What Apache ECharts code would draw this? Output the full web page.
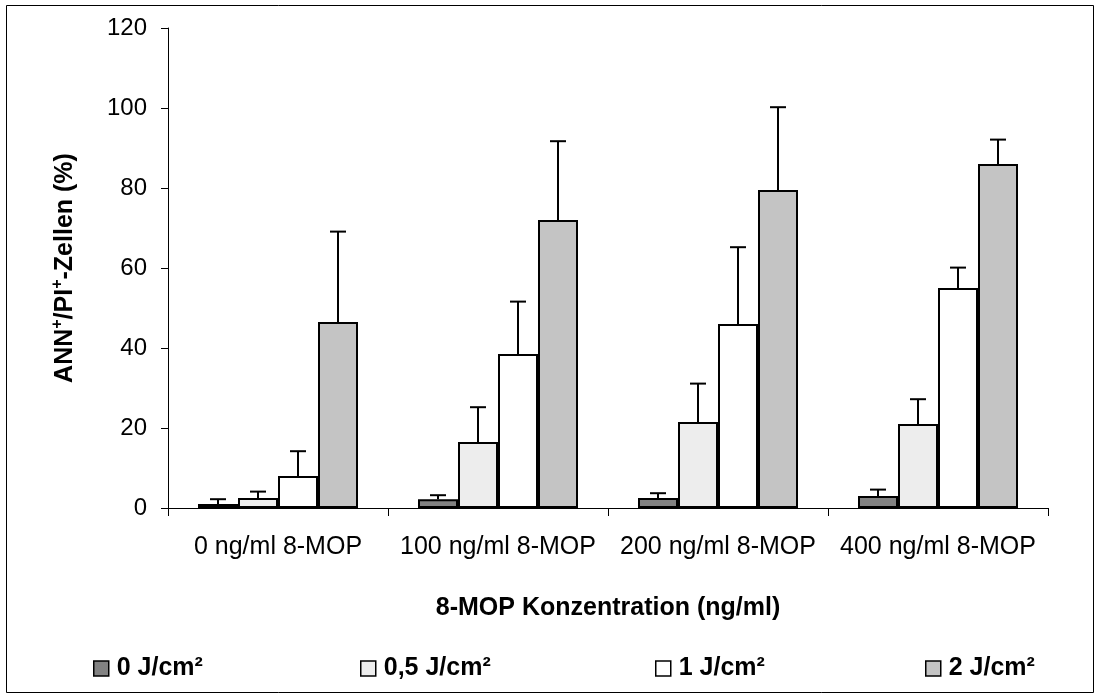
<!DOCTYPE html>
<html>
<head>
<meta charset="utf-8">
<script src="https://cdn.jsdelivr.net/npm/echarts@6/dist/echarts.min.js"></script>
<style>
html,body{margin:0;padding:0;background:#fff;}
#chart{width:1104px;height:699px;}
</style>
</head>
<body>
<div id="chart"></div>
<script>
const categories = ['0 ng/ml 8-MOP', '100 ng/ml 8-MOP', '200 ng/ml 8-MOP', '400 ng/ml 8-MOP'];
const seriesNames = ['0 J/cm²', '0,5 J/cm²', '1 J/cm²', '2 J/cm²'];
const values0 = [1, 2.2, 2.5, 3];
const values05 = [2.5, 16.5, 21.5, 21];
const values1 = [8, 38.5, 46, 55];
const values2 = [46.5, 72, 79.5, 86];
const errors0 = [1.2, 1, 1.2, 1.6];
const errors05 = [1.6, 8.7, 9.6, 6.2];
const errors1 = [6.2, 13.1, 19.2, 5.1];
const errors2 = [22.6, 19.7, 20.7, 6.1];
const yTicks = [0, 20, 40, 60, 80, 100, 120];

const allValues = [values0, values05, values1, values2];
const allErrors = [errors0, errors05, errors1, errors2];
const colors = ['#828282', '#ededed', '#ffffff', '#c4c4c4'];
const FONT = 'Liberation Sans, Arial, sans-serif';
const BAR_W = 40;

const chart = echarts.init(document.getElementById('chart'));

const barSeries = seriesNames.map((n, i) => ({
  name: n,
  type: 'bar',
  data: allValues[i],
  barWidth: BAR_W,
  barGap: '0%',
  itemStyle: { color: colors[i], borderColor: '#000', borderWidth: 2 },
  emphasis: { disabled: true },
  z: 2
}));

const errSeries = seriesNames.map((n, i) => ({
  type: 'custom',
  name: n + ' err',
  data: allValues[i].map((v, k) => [k, v, v + allErrors[i][k]]),
  encode: { x: 0, y: [1, 2] },
  z: 3,
  silent: true,
  renderItem: function (params, api) {
    const c = api.value(0);
    const p0 = api.coord([c, api.value(1)]);
    const p1 = api.coord([c, api.value(2)]);
    const x = p0[0] + (i - 1.5) * BAR_W;
    const cap = 8;
    return {
      type: 'group',
      children: [
        { type: 'line', shape: { x1: x, y1: p0[1], x2: x, y2: p1[1] }, style: { stroke: '#000', lineWidth: 2 } },
        { type: 'line', shape: { x1: x - cap, y1: p1[1], x2: x + cap, y2: p1[1] }, style: { stroke: '#000', lineWidth: 2 } }
      ]
    };
  }
}));

const legendLefts = [88, 355, 650, 920];
const legends = seriesNames.map((n, i) => ({
  data: [n],
  left: legendLefts[i],
  top: 651,
  icon: 'rect',
  itemWidth: 15,
  itemHeight: 15,
  selectedMode: false,
  textStyle: { fontFamily: FONT, fontWeight: 'bold', fontSize: 25, color: '#000', padding: [0, 0, 0, 3] },
  itemStyle: { borderColor: '#000', borderWidth: 1.5 }
}));

chart.setOption({
  animation: false,
  backgroundColor: '#fff',
  graphic: [{
    type: 'rect',
    shape: { x: 6.5, y: 5.5, width: 1087, height: 687 },
    style: { fill: 'none', stroke: '#000', lineWidth: 1 },
    silent: true
  }],
  legend: legends,
  grid: { left: 168, top: 28, width: 880, height: 480, containLabel: false },
  xAxis: {
    type: 'category',
    data: categories,
    name: '8-MOP Konzentration (ng/ml)',
    nameLocation: 'middle',
    nameGap: 88,
    nameTextStyle: { fontFamily: FONT, fontWeight: 'bold', fontSize: 25, color: '#000' },
    axisLine: { lineStyle: { color: '#000', width: 1 } },
    axisTick: { show: true, length: 8, interval: 0, alignWithLabel: false, lineStyle: { color: '#000' } },
    axisLabel: { fontFamily: FONT, fontSize: 25, color: '#000', margin: 27, interval: 0 }
  },
  yAxis: {
    type: 'value',
    min: 0,
    max: 120,
    interval: 20,
    name: '{b|ANN}{s|+}{b|/PI}{s|+}{b|-Zellen (%)}',
    nameLocation: 'middle',
    nameGap: 90,
    nameRotate: 90,
    nameTextStyle: {
      color: '#000',
      rich: {
        b: { fontFamily: FONT, fontWeight: 'bold', fontSize: 25, color: '#000', lineHeight: 28, verticalAlign: 'bottom' },
        s: { fontFamily: FONT, fontWeight: 'bold', fontSize: 16, color: '#000', lineHeight: 28, verticalAlign: 'top' }
      }
    },
    splitLine: { show: false },
    axisLine: { show: true, lineStyle: { color: '#000', width: 1 } },
    axisTick: { show: true, length: 7, lineStyle: { color: '#000' } },
    axisLabel: {
      fontFamily: FONT, fontSize: 24, color: '#000', margin: 21,
      formatter: function (v) { return yTicks.indexOf(v) >= 0 ? String(v) : ''; }
    }
  },
  series: barSeries.concat(errSeries)
});
</script>
</body>
</html>
